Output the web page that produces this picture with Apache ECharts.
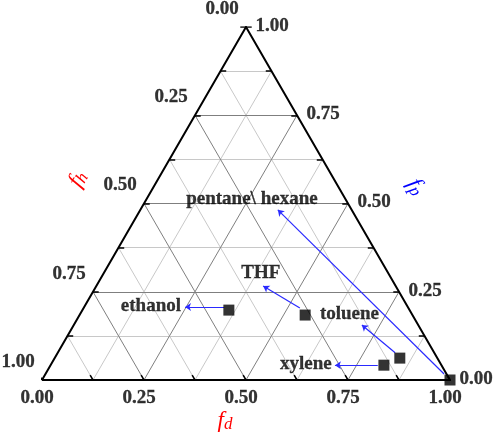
<!DOCTYPE html>
<html lang="en">
<head>
  <meta charset="UTF-8">
  <title>Teas ternary diagram</title>
  <script src="https://cdn.jsdelivr.net/npm/echarts@6/dist/echarts.min.js"></script>
</head>
<style>
  * {
    padding: 0px;
    margin: 0px;
  }
  body {
    background: #fff;
  }
</style>
<body>
<div id="main" style="width:496px;height:434px;"></div>
</body>
</html>
<script>
  // solvents: position in (fd, fp), fh = 1 - fd - fp
  var solventNames = ['pentane\\ hexane', 'xylene', 'toluene', 'THF', 'ethanol'];
  var fdValues = [1.00, 0.817, 0.846, 0.553, 0.359];
  var fpValues = [0.00, 0.042, 0.062, 0.184, 0.198];

  // where each name is written
  var labelFd = [0.258, 0.624, 0.660, 0.385, 0.162];
  var labelFp = [0.513, 0.045, 0.187, 0.303, 0.210];

  // blue arrows from the square to the name
  var arrowFromFd = [0.977, 0.802, 0.827, 0.530, 0.343];
  var arrowFromFp = [0.017, 0.042, 0.077, 0.204, 0.207];
  var arrowToFd = [0.337, 0.697, 0.706, 0.409, 0.247];
  var arrowToFp = [0.482, 0.042, 0.156, 0.266, 0.207];

  var tickValues = [0, 0.25, 0.5, 0.75, 1];
  var tickLabels = ['0.00', '0.25', '0.50', '0.75', '1.00'];

  var H = Math.sqrt(3) / 2;
  var serif = '"Liberation Serif", "Times New Roman", serif';

  /*
  * ternary (fd, fp) -> cartesian x, y
  * */
  function toXY(fd, fp) {
    return [fd + fp / 2, fp * H];
  }

  window.onload = function () {
    var myChart = echarts.init(document.getElementById('main'));

    // grid lines every 1/8, darker every 1/4
    var minorLines = [];
    var majorLines = [];
    var ticks = [];
    var tl = 0.014;
    for (var k = 1; k < 8; k++) {
      var t = k / 8;
      var group = k % 2 === 0 ? majorLines : minorLines;
      group.push({coords: [toXY(0, t), toXY(1 - t, t)]});
      group.push({coords: [toXY(t, 0), toXY(t, 1 - t)]});
      group.push({coords: [toXY(1 - t, 0), toXY(0, 1 - t)]});
    }
    for (var k = 0; k <= 8; k++) {
      var t = k / 8;
      ticks.push({coords: [toXY(1 - t, t), toXY(1 - t - tl, t)]});
      ticks.push({coords: [toXY(0, t), toXY(tl, t)]});
      ticks.push({coords: [toXY(t, 0), toXY(t - tl, tl)]});
    }

    var frame = [{coords: [toXY(0, 0), toXY(1, 0), toXY(0, 1), toXY(0, 0)]}];

    var bottomLabels = tickValues.map(function (v, i) {
      return {name: tickLabels[i], value: toXY(v, 0)};
    });
    var rightLabels = tickValues.map(function (v, i) {
      return {name: tickLabels[i], value: toXY(1 - v, v)};
    });
    var leftLabels = tickValues.map(function (v, i) {
      return {name: tickLabels[i], value: toXY(0, 1 - v)};
    });

    var squares = solventNames.map(function (n, i) {
      return {name: n, value: toXY(fdValues[i], fpValues[i])};
    });
    var names = solventNames.map(function (n, i) {
      return {name: n, value: toXY(labelFd[i], labelFp[i])};
    });
    var arrows = solventNames.map(function (n, i) {
      return {coords: [toXY(arrowFromFd[i], arrowFromFp[i]), toXY(arrowToFd[i], arrowToFp[i])]};
    });

    function labelSeries(data, offset) {
      return {
        type: 'scatter',
        data: data,
        symbolSize: 1,
        itemStyle: {color: 'rgba(0,0,0,0)'},
        silent: true,
        label: {
          show: true,
          position: 'inside',
          offset: offset,
          align: 'center',
          verticalAlign: 'middle',
          formatter: '{b}',
          color: '#000',
          textBorderColor: '#000',
          textBorderWidth: 0.3,
          fontFamily: serif,
          fontWeight: 'bold',
          fontSize: 19
        }
      };
    }

    function title(x, y, rot, sub, color) {
      return {
        type: 'text', x: x, y: y, rotation: rot,
        style: {
          text: '{f|f}{s|' + sub + '}', fill: color, align: 'center', verticalAlign: 'middle',
          rich: {
            f: {fontFamily: serif, fontStyle: 'italic', fontSize: 23, lineHeight: 24, fill: color},
            s: {fontFamily: serif, fontStyle: 'italic', fontSize: 17, lineHeight: 16, verticalAlign: 'bottom', fill: color}
          }
        }
      };
    }

    myChart.setOption({
      backgroundColor: '#fff',
      animation: false,
      grid: {left: 42, top: 27, width: 408, height: 353},
      xAxis: {type: 'value', min: 0, max: 1, show: false},
      yAxis: {type: 'value', min: 0, max: H, show: false},
      graphic: [
        title(78, 179, Math.PI / 3, 'h', '#ff0000'),
        title(416, 187, -Math.PI / 3, 'p', '#0000ff'),
        title(225, 421, 0, 'd', '#ff0000')
      ],
      series: [
        {
          type: 'lines',
          coordinateSystem: 'cartesian2d',
          silent: true,
          data: minorLines,
          lineStyle: {color: '#c8c8c8', width: 1, opacity: 1}
        },
        {
          type: 'lines',
          coordinateSystem: 'cartesian2d',
          silent: true,
          data: majorLines,
          lineStyle: {color: '#7f7f7f', width: 1, opacity: 1}
        },
        {
          type: 'lines',
          coordinateSystem: 'cartesian2d',
          silent: true,
          data: ticks,
          lineStyle: {color: '#000', width: 1.5, opacity: 1}
        },
        {
          type: 'lines',
          coordinateSystem: 'cartesian2d',
          polyline: true,
          silent: true,
          data: frame,
          lineStyle: {color: '#000', width: 2, opacity: 1}
        },
        {
          type: 'lines',
          coordinateSystem: 'cartesian2d',
          silent: true,
          data: arrows,
          symbol: ['none', 'arrow'],
          symbolSize: 6,
          lineStyle: {color: '#2a2aff', width: 1.2, opacity: 1}
        },
        {
          type: 'scatter',
          data: squares,
          symbol: 'rect',
          symbolSize: 11,
          silent: true,
          itemStyle: {color: '#000'}
        },
        labelSeries(names, [0, 0]),
        labelSeries(bottomLabels, [-5, 18]),
        labelSeries(rightLabels, [26, -1]),
        labelSeries(leftLabels, [-24, -18])
      ]
    });
  };
</script>
